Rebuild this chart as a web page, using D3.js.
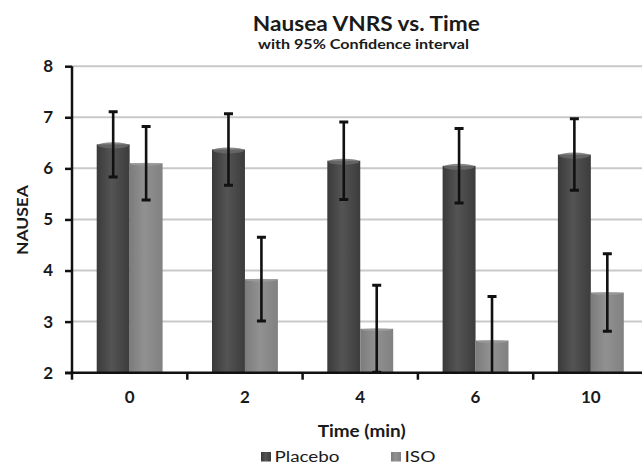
<!DOCTYPE html>
<html>
<head>
<meta charset="utf-8">
<script src="https://cdn.jsdelivr.net/npm/d3@7"></script>
<style>
  html, body { margin: 0; padding: 0; background: #fff; }
  svg { display: block; }
  text { font-family: Lato, "Open Sans", "Liberation Sans", sans-serif; font-weight: bold; fill: #1a1a1a; }
</style>
</head>
<body>
<svg id="chart" width="642" height="465"></svg>
<script>
// Time points (minutes) and mean nausea scores with 95% CI half-widths
const categories = ["0", "2", "4", "6", "10"];
const seriesNames = ["Placebo", "ISO"];
const placeboMean = [6.47, 6.37, 6.15, 6.05, 6.27];
const placeboCI   = [0.64, 0.70, 0.76, 0.73, 0.70];
const isoMean     = [6.10, 3.83, 2.86, 2.63, 3.57];
const isoCI       = [0.72, 0.82, 0.85, 0.86, 0.76];
const yTicks = [2, 3, 4, 5, 6, 7, 8];

const svg = d3.select("#chart");
const W = 642, H = 465;
const plot = { left: 72, right: 648.5, top: 66.2, bottom: 372.7 };

const x = d3.scaleBand().domain(categories).range([plot.left, plot.right]).paddingInner(0).paddingOuter(0);
// Two bars per group, 150% gap width between groups
const barW = x.bandwidth() / 3.5;
const x1 = d3.scaleBand().domain(seriesNames).range([0, barW * 2]);
const groupOffset = (x.bandwidth() - barW * 2) / 2;
const y = d3.scaleLinear().domain([2, 8]).range([plot.bottom, plot.top]);

const defs = svg.append("defs");
const gP = defs.append("linearGradient").attr("id", "gradPlacebo").attr("x1", "0").attr("x2", "1").attr("y1", "0").attr("y2", "0");
gP.append("stop").attr("offset", "0%").attr("stop-color", "#3a3a3a");
gP.append("stop").attr("offset", "45%").attr("stop-color", "#545454");
gP.append("stop").attr("offset", "100%").attr("stop-color", "#3c3c3c");
const gI = defs.append("linearGradient").attr("id", "gradIso").attr("x1", "0").attr("x2", "1").attr("y1", "0").attr("y2", "0");
gI.append("stop").attr("offset", "0%").attr("stop-color", "#7c7c7c");
gI.append("stop").attr("offset", "45%").attr("stop-color", "#919191");
gI.append("stop").attr("offset", "100%").attr("stop-color", "#818181");

const clip = defs.append("clipPath").attr("id", "plotClip");
clip.append("rect").attr("x", 0).attr("y", plot.top - 10).attr("width", W).attr("height", plot.bottom - plot.top + 10);

// Horizontal gridlines
svg.append("g").selectAll("line").data(yTicks.slice(1)).join("line")
  .attr("x1", plot.left).attr("x2", W)
  .attr("y1", d => y(d)).attr("y2", d => y(d))
  .attr("stroke", "#c9c9c9").attr("stroke-width", 2);

const series = [
  { name: "Placebo", mean: placeboMean, ci: placeboCI, fill: "url(#gradPlacebo)", cap: "#6b6b6b" },
  { name: "ISO", mean: isoMean, ci: isoCI, fill: "url(#gradIso)", cap: "#9c9c9c" }
];

const bars = svg.append("g");
series.forEach(s => {
  const g = bars.append("g");
  const data = categories.map((c, i) => ({ c, v: s.mean[i], e: s.ci[i] }));
  g.selectAll("rect.bar").data(data).join("rect").attr("class", "bar")
    .attr("x", d => x(d.c) + groupOffset + x1(s.name))
    .attr("y", d => y(d.v))
    .attr("width", x1.bandwidth())
    .attr("height", d => y(2) - y(d.v))
    .attr("fill", s.fill);
  // rounded lighter top of each column
  g.selectAll("ellipse.top").data(data).join("ellipse").attr("class", "top")
    .attr("cx", d => x(d.c) + groupOffset + x1(s.name) + x1.bandwidth() / 2)
    .attr("cy", d => y(d.v) + 1)
    .attr("rx", x1.bandwidth() / 2 - 1)
    .attr("ry", s.name === "Placebo" ? 3 : 1.5)
    .attr("fill", s.cap).attr("opacity", 0.8);
});

// Error bars (clipped to the plot area)
const errs = svg.append("g").attr("clip-path", "url(#plotClip)");
series.forEach(s => {
  const data = categories.map((c, i) => ({ c, lo: s.mean[i] - s.ci[i], hi: s.mean[i] + s.ci[i] }));
  const cx = d => x(d.c) + groupOffset + x1(s.name) + x1.bandwidth() / 2;
  errs.selectAll(null).data(data).join("line")
    .attr("x1", cx).attr("x2", cx)
    .attr("y1", d => y(Math.max(d.lo, 1.9))).attr("y2", d => y(d.hi))
    .attr("stroke", "#111").attr("stroke-width", 2.6);
  errs.selectAll(null).data(data).join("line")
    .attr("x1", d => cx(d) - 4.5).attr("x2", d => cx(d) + 4.5)
    .attr("y1", d => y(d.hi)).attr("y2", d => y(d.hi))
    .attr("stroke", "#111").attr("stroke-width", 3);
  errs.selectAll(null).data(data.filter(d => d.lo >= 2)).join("line")
    .attr("x1", d => cx(d) - 4.5).attr("x2", d => cx(d) + 4.5)
    .attr("y1", d => y(d.lo)).attr("y2", d => y(d.lo))
    .attr("stroke", "#111").attr("stroke-width", 3);
});

// Y axis
const yAxis = svg.append("g").attr("transform", `translate(${plot.left},0)`)
  .call(d3.axisLeft(y).tickValues(yTicks).tickFormat(d3.format("d")).tickSize(7).tickPadding(12));
yAxis.select(".domain").attr("stroke", "#111").attr("stroke-width", 2.5).attr("d", `M0,${plot.top}V${plot.bottom}`);
yAxis.selectAll(".tick line").attr("stroke", "#111").attr("stroke-width", 2.5);
yAxis.selectAll(".tick text").style("font-size", "17px").attr("fill", "#1a1a1a");

// X axis
const xAxis = svg.append("g").attr("transform", `translate(0,${plot.bottom})`)
  .call(d3.axisBottom(x).tickSize(0).tickPadding(18));
xAxis.select(".domain").attr("stroke", "#111").attr("stroke-width", 2.5).attr("d", `M${plot.left - 7},0H${W}`);
xAxis.selectAll(".tick text").style("font-size", "17px").attr("fill", "#1a1a1a");
// tick marks between groups
svg.append("g").selectAll("line").data(categories).join("line")
  .attr("x1", d => x(d) + x.bandwidth()).attr("x2", d => x(d) + x.bandwidth())
  .attr("y1", plot.bottom).attr("y2", plot.bottom + 7)
  .attr("stroke", "#111").attr("stroke-width", 2.5);
svg.append("line").attr("x1", plot.left).attr("x2", plot.left)
  .attr("y1", plot.bottom).attr("y2", plot.bottom + 7)
  .attr("stroke", "#111").attr("stroke-width", 2.5);

// Titles (widths set to the wide Calibri-like lettering)
const fitText = (sel, len) => sel.attr("textLength", len).attr("lengthAdjust", "spacingAndGlyphs");
fitText(svg.append("text").attr("x", 366.3).attr("y", 31.3).attr("text-anchor", "middle")
  .style("font-size", "20px").text("Nausea VNRS vs. Time"), 227);
fitText(svg.append("text").attr("x", 363.5).attr("y", 49.3).attr("text-anchor", "middle")
  .style("font-size", "13.5px").text("with 95% Confidence interval"), 211);
fitText(svg.append("text").attr("transform", "translate(28,220) rotate(-90)").attr("text-anchor", "middle")
  .style("font-size", "15.5px").text("NAUSEA"), 70);
fitText(svg.append("text").attr("x", 361.7).attr("y", 436.7).attr("text-anchor", "middle")
  .style("font-size", "17.5px").text("Time (min)"), 88);

// Legend
const legend = svg.append("g");
const legendX = [261, 391];
const legendW = [65, 31];
seriesNames.forEach((n, i) => {
  legend.append("rect").attr("x", legendX[i]).attr("y", 452).attr("width", 10).attr("height", 9.5)
    .attr("fill", series[i].fill);
  fitText(legend.append("text").attr("x", legendX[i] + 13.5).attr("y", 461.5)
    .style("font-size", "15.5px").style("font-weight", "normal").text(n), legendW[i]);
});
</script>
</body>
</html>
